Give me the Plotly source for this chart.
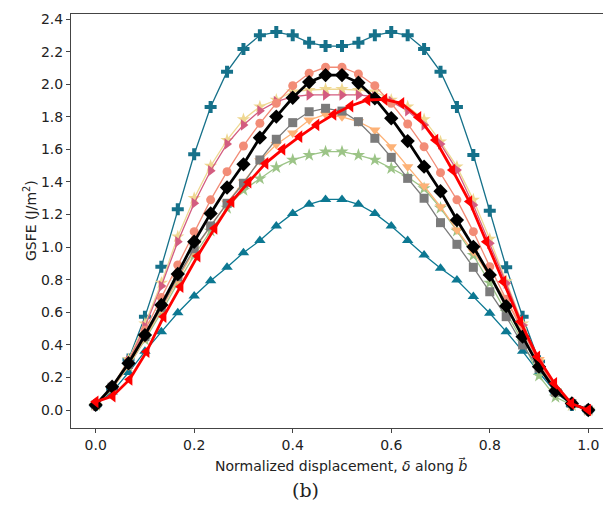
import plotly.graph_objects as go

# x grids
x31 = [i / 30 for i in range(31)]
x30 = [k / 29 for k in range(30)]

teal_plus = [0.03, 0.13, 0.31, 0.573, 0.88, 1.232, 1.57, 1.86, 2.077, 2.216, 2.30, 2.32, 2.30, 2.255, 2.234,
             2.234, 2.255, 2.30, 2.32, 2.30, 2.216, 2.077, 1.86, 1.565, 1.223, 0.876, 0.573, 0.30, 0.12, 0.03, 0.0]
teal_tri = [0.03, 0.11, 0.23, 0.36, 0.48, 0.597, 0.70, 0.794, 0.876, 0.966, 1.04, 1.13, 1.207, 1.263, 1.293,
            1.293, 1.263, 1.207, 1.13, 1.04, 0.951, 0.87, 0.798, 0.696, 0.594, 0.481, 0.36, 0.23, 0.11, 0.03, 0.0]
salmon = [0.03, 0.14, 0.30, 0.49, 0.69, 0.89, 1.095, 1.29, 1.463, 1.621, 1.76, 1.883, 1.991, 2.067, 2.104,
          2.104, 2.063, 1.991, 1.883, 1.756, 1.616, 1.457, 1.29, 1.095, 0.88, 0.68, 0.48, 0.29, 0.12, 0.04, 0.0]
yellow = [0.03, 0.14, 0.31, 0.53, 0.78, 1.064, 1.30, 1.498, 1.657, 1.784, 1.862, 1.903, 1.954, 1.964, 1.969,
          1.969, 1.964, 1.954, 1.903, 1.862, 1.784, 1.647, 1.494, 1.29, 1.05, 0.79, 0.53, 0.30, 0.12, 0.03, 0.0]
pink = [0.03, 0.14, 0.30, 0.511, 0.761, 1.033, 1.269, 1.469, 1.633, 1.75, 1.837, 1.893, 1.923, 1.934, 1.934,
        1.934, 1.934, 1.923, 1.893, 1.837, 1.75, 1.633, 1.473, 1.258, 1.023, 0.778, 0.52, 0.29, 0.12, 0.04, 0.0]
gray = [0.03, 0.14, 0.28, 0.45, 0.63, 0.818, 0.99, 1.13, 1.269, 1.392, 1.535, 1.662, 1.764, 1.831, 1.852,
        1.835, 1.77, 1.668, 1.551, 1.422, 1.30, 1.15, 1.017, 0.876, 0.726, 0.573, 0.399, 0.256, 0.11, 0.04, 0.0]
orange = [0.03, 0.13, 0.27, 0.44, 0.62, 0.80, 0.98, 1.13, 1.27, 1.40, 1.53, 1.63, 1.70, 1.78, 1.815,
          1.80, 1.77, 1.719, 1.616, 1.494, 1.375, 1.248, 1.105, 0.972, 0.818, 0.675, 0.511, 0.31, 0.12, 0.04, 0.0]
green = [0.03, 0.13, 0.27, 0.43, 0.60, 0.78, 0.95, 1.10, 1.24, 1.35, 1.42, 1.49, 1.535, 1.565, 1.586,
         1.586, 1.565, 1.535, 1.484, 1.43, 1.36, 1.24, 1.10, 0.95, 0.78, 0.60, 0.42, 0.21, 0.08, 0.03, 0.0]
black = [0.031, 0.143, 0.287, 0.46, 0.645, 0.835, 1.033, 1.207, 1.366, 1.508, 1.672, 1.801, 1.917, 2.013, 2.056,
         2.056, 2.009, 1.913, 1.791, 1.651, 1.494, 1.343, 1.166, 1.002, 0.829, 0.638, 0.45, 0.266, 0.118, 0.04, 0.0]
red = [0.05, 0.085, 0.188, 0.358, 0.573, 0.757, 0.945, 1.115, 1.279, 1.398, 1.514, 1.60, 1.678, 1.75, 1.814,
       1.866, 1.903, 1.907, 1.883, 1.797, 1.657, 1.473, 1.28, 1.033, 0.788, 0.542, 0.327, 0.164, 0.04, 0.0]

series = [
    (x31, teal_plus, "#16718a", "cross", 10, 1.3),
    (x31, teal_tri, "#0c7892", "triangle-up", 10, 1.3),
    (x31, green, "#9cc487", "star", 10, 1.3),
    (x31, orange, "#fdb277", "triangle-down", 10, 1.3),
    (x31, gray, "#7b7b7b", "square", 9, 1.3),
    (x31, yellow, "#efd892", "star", 10, 1.3),
    (x31, pink, "#d35c80", "triangle-right", 10, 1.3),
    (x31, salmon, "#f28c77", "circle", 9, 1.3),
    (x31, black, "#000000", "diamond", 11, 2.8),
    (x30, red, "#ff0000", "triangle-left", 11, 2.8),
]

fig = go.Figure()
for xs, ys, col, sym, sz, lw in series:
    fig.add_trace(go.Scatter(x=xs, y=ys, mode="lines+markers",
                             line=dict(color=col, width=lw),
                             marker=dict(symbol=sym, size=sz, color=col, line=dict(width=0)),
                             showlegend=False))

axis_font = dict(family="DejaVu Sans", size=14, color="#222")
# page body has an 8px margin, so the figure is 8px smaller and offset accordingly
fig.update_layout(
    width=603, height=513,
    margin=dict(l=63, r=0, t=6, b=93),
    paper_bgcolor="white", plot_bgcolor="white",
    xaxis=dict(range=[-0.0501, 1.0461], tickvals=[0, 0.2, 0.4, 0.6, 0.8, 1.0],
               ticktext=["0.0", "0.2", "0.4", "0.6", "0.8", "1.0"],
               showgrid=False, zeroline=False, showline=True, linecolor="#444", linewidth=1,
               mirror=True, ticks="outside", ticklen=4, tickcolor="#444", tickfont=axis_font),
    yaxis=dict(range=[-0.1105, 2.431], tickvals=[i * 0.2 for i in range(13)],
               ticktext=["%.1f" % (i * 0.2) for i in range(13)],
               showgrid=False, zeroline=False, showline=True, linecolor="#444", linewidth=1,
               mirror=False, ticks="outside", ticklen=4, tickcolor="#444", tickfont=axis_font),
    annotations=[
        dict(text="Normalized displacement, <i>δ</i> along <i>b⃗</i>", x=0.5, y=-0.0894,
             xref="paper", yref="paper", showarrow=False, xanchor="center", yanchor="middle",
             font=dict(family="DejaVu Sans", size=14, color="#222")),
        dict(text="GSFE (J/m<sup>2</sup>)", x=-0.0759, y=0.5, textangle=-90,
             xref="paper", yref="paper", showarrow=False, xanchor="center", yanchor="middle",
             font=dict(family="DejaVu Sans", size=14, color="#222")),
        dict(text="(b)", x=(305 - 71) / 540, y=(428 - 490) / 414,
             xref="paper", yref="paper", showarrow=False, xanchor="center", yanchor="middle",
             font=dict(family="DejaVu Serif", size=19, color="#222")),
    ],
)

fig.write_html("out.html")
